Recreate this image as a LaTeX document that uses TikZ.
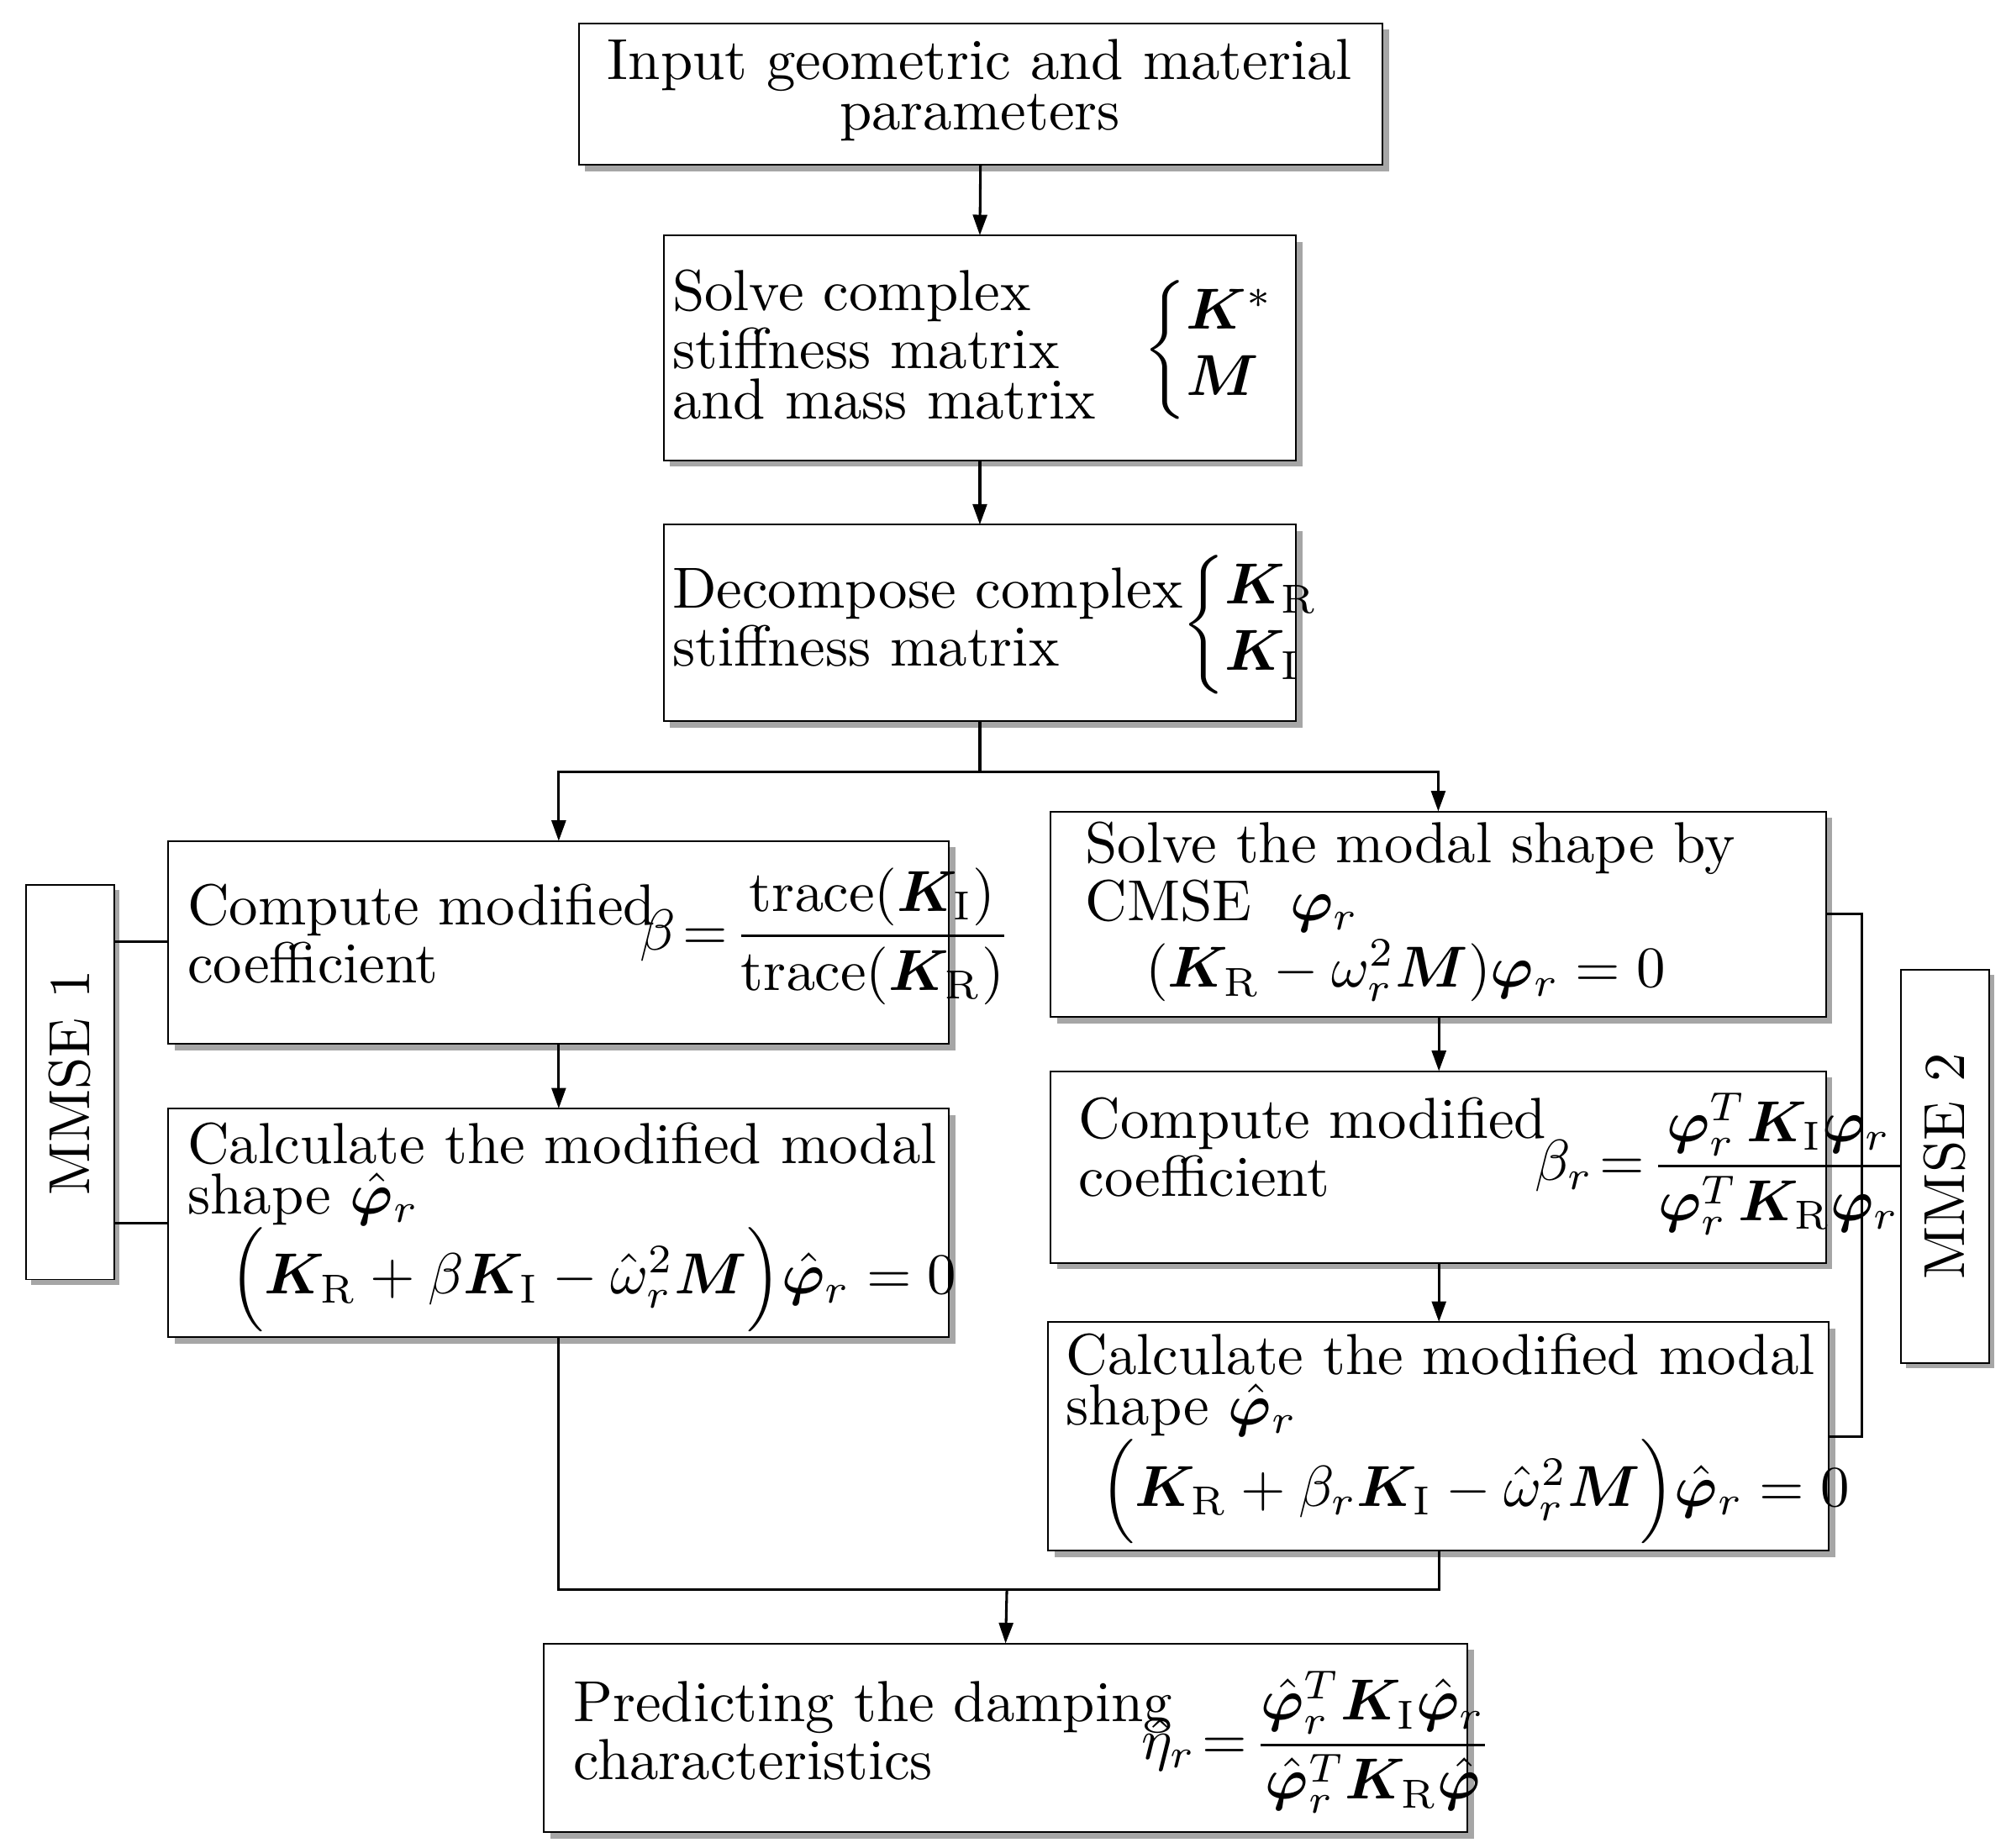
\documentclass[tikz,border=0pt]{standalone}
\usepackage{amsmath,bm}
\usetikzlibrary{shadows,arrows.meta}
\begin{document}
\begin{tikzpicture}[x=1pt,y=-1pt,
 box/.style={draw,line width=1.3pt,fill=white,drop shadow={shadow xshift=5pt,shadow yshift=-5pt,fill=black!35,opacity=1}},
 side/.style={draw,line width=1.3pt,fill=white,drop shadow={shadow xshift=4pt,shadow yshift=-4pt,fill=black!35,opacity=1}},
 txt/.style={font=\fontsize{10}{8.7}\selectfont,align=left,inner sep=0pt,scale=4.5,transform shape},
 arr/.style={line width=2pt,-{Triangle[length=16pt,width=11pt]}},
 ln/.style={line width=2pt}]
\useasboundingbox (0,0) rectangle (1560,1437);
\newcommand{\bx}[5]{\path[box] (#2,#3) rectangle (#4,#5); \coordinate (#1n) at ({(#2+#4)/2},#3); \coordinate (#1s) at ({(#2+#4)/2},#5);}
\bx{a}{450}{18}{1075}{128}
\bx{b}{516}{183}{1008}{358}
\bx{c}{516}{408}{1008}{561}
\bx{d}{131}{654}{738}{812}
\bx{e}{131}{862}{738}{1040}
\bx{f}{817}{631}{1420}{791}
\bx{g}{817}{833}{1420}{982}
\bx{h}{815}{1028}{1422}{1206}
\bx{k}{423}{1278}{1141}{1425}
\path[side] (20,688) rectangle (89,995);
\path[side] (1478,754) rectangle (1547,1060);
\node[txt,rotate=90] (m1) at (54,842) {MMSE 1};
\node[txt,rotate=90] (m2) at (1512,907) {MMSE 2};
% texts
\node[txt,align=center] (ta) at (762,70) {Input geometric and material\\parameters};
\node[txt,anchor=west] (tb) at (522,268) {Solve complex\\stiffness matrix\\and mass matrix};
\node[txt,anchor=west] (tb2) at (888,272) {$\left\{\begin{array}{@{}l}\bm{K}^{*}\\[2pt]\bm{M}\end{array}\right.$};
\node[txt,anchor=west] (tc) at (522,480) {Decompose complex\\stiffness matrix};
\node[txt,anchor=west] (tc2) at (918,486) {$\left\{\begin{array}{@{}l}\bm{K}_{\mathrm{R}}\\[2pt]\bm{K}_{\mathrm{I}}\end{array}\right.$};
\node[txt,anchor=west] (td) at (145,726) {Compute modified\\coefficient};
\node[txt,anchor=west] (td2) at (497,728) {$\beta\!=\!\dfrac{\mathrm{trace}(\bm{K}_{\mathrm{I}})}{\mathrm{trace}(\bm{K}_{\mathrm{R}})}$};
\node[txt,anchor=north west] (te) at (145,872) {Calculate the modified modal\\shape $\hat{\bm{\varphi}}_r$};
\node[txt,anchor=west] (te2) at (178,995) {$\Big(\bm{K}_{\mathrm{R}}+\beta\bm{K}_{\mathrm{I}}-\hat{\omega}_r^2\bm{M}\Big)\hat{\bm{\varphi}}_r=0$};
\node[txt,anchor=north west] (tf) at (843,638) {Solve the modal shape by\\CMSE\ \ $\bm{\varphi}_r$};
\node[txt,anchor=west] (tf2) at (890,755) {$(\bm{K}_{\mathrm{R}}-\omega_r^2\bm{M})\bm{\varphi}_r=0$};
\node[txt,anchor=west] (tg) at (838,892) {Compute modified\\coefficient};
\node[txt,anchor=west] (tg2) at (1193,905) {$\beta_r\!=\!\dfrac{\bm{\varphi}_r^T\bm{K}_{\mathrm{I}}\bm{\varphi}_r}{\bm{\varphi}_r^T\bm{K}_{\mathrm{R}}\bm{\varphi}_r}$};
\node[txt,anchor=north west] (th) at (828,1036) {Calculate the modified modal\\shape $\hat{\bm{\varphi}}_r$};
\node[txt,anchor=west] (th2) at (855,1160) {$\Big(\bm{K}_{\mathrm{R}}+\beta_r\bm{K}_{\mathrm{I}}-\hat{\omega}_r^2\bm{M}\Big)\hat{\bm{\varphi}}_r=0$};
\node[txt,anchor=west] (tk) at (445,1346) {Predicting the damping\\characteristics};
\node[txt,anchor=west] (tk2) at (887,1355) {$\hat{\eta}_r\!=\!\dfrac{\hat{\bm{\varphi}}_r^T\bm{K}_{\mathrm{I}}\hat{\bm{\varphi}}_r}{\hat{\bm{\varphi}}_r^T\bm{K}_{\mathrm{R}}\hat{\bm{\varphi}}}$};
% connectors
\draw[arr] (as) -- (bn);
\draw[arr] (bs) -- (cn);
\draw[ln] (cs) -- (762,600) coordinate (split);
\draw[arr] (split) -| (dn);
\draw[arr] (split) -| (fn);
\draw[arr] (ds) -- (en);
\draw[arr] (1119,791) -- (1119,833);
\draw[arr] (1119,982) -- (1119,1028);
\draw[ln] (434,1040) -- (434,1236) coordinate (j1) -- (1119,1236) -- (1119,1206);
\draw[arr] (783,1236) -- (kn);
\draw[ln] (89,732) -- (131,732);
\draw[ln] (89,951) -- (131,951);
\draw[ln] (1420,711) -- (1448,711) -- (1448,1117) -- (1422,1117);
\draw[ln] (1420,907) -- (1478,907);
\end{tikzpicture}
\end{document}
